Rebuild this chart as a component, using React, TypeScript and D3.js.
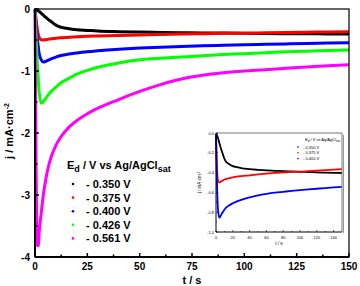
import React from 'react';
import * as d3 from 'd3';

// time axis (s) shared by all transients
const times = [0, 0.3, 0.6, 1, 1.5, 2, 3, 4, 5, 6, 8, 10, 12, 15, 20, 25, 30, 40, 50, 60, 70, 80, 90, 100, 110, 120, 130, 140, 150];

// current density j (mA/cm2) for each deposition potential
const j350 = [-0.02, -0.01, -0.01, -0.02, -0.03, -0.04, -0.07, -0.1, -0.13, -0.16, -0.21, -0.26, -0.29, -0.31, -0.335, -0.345, -0.355, -0.365, -0.372, -0.378, -0.382, -0.386, -0.389, -0.392, -0.395, -0.398, -0.4, -0.402, -0.404];
const j375 = [-0.02, -0.1, -0.2, -0.3, -0.4, -0.46, -0.495, -0.5, -0.495, -0.49, -0.48, -0.47, -0.465, -0.458, -0.448, -0.44, -0.435, -0.427, -0.418, -0.41, -0.403, -0.398, -0.393, -0.39, -0.385, -0.38, -0.375, -0.37, -0.365];
const j400 = [-0.02, -0.15, -0.3, -0.45, -0.6, -0.72, -0.82, -0.855, -0.845, -0.83, -0.8, -0.775, -0.755, -0.735, -0.71, -0.69, -0.675, -0.65, -0.63, -0.615, -0.603, -0.594, -0.585, -0.577, -0.57, -0.563, -0.556, -0.55, -0.545];
const j426 = [-0.05, -0.25, -0.5, -0.8, -1.1, -1.35, -1.52, -1.49, -1.45, -1.4, -1.32, -1.26, -1.2, -1.14, -1.05, -0.99, -0.94, -0.87, -0.82, -0.795, -0.775, -0.755, -0.735, -0.72, -0.705, -0.69, -0.68, -0.67, -0.66];
const j561 = [-0.1, -1.5, -2.8, -3.8, -3.82, -3.6, -3.28, -3.0, -2.78, -2.6, -2.36, -2.2, -2.08, -1.95, -1.8, -1.69, -1.6, -1.46, -1.33, -1.22, -1.13, -1.07, -1.03, -1.0, -0.98, -0.955, -0.935, -0.915, -0.9];

const seriesLabels = ['- 0.350 V', '- 0.375 V', '- 0.400 V', '- 0.426 V', '- 0.561 V'];
const seriesColors = ['#000000', '#ff0000', '#0000ff', '#00ff00', '#ff00ff'];
const seriesValues = [j350, j375, j400, j426, j561];

const xTicks = [0, 25, 50, 75, 100, 125, 150];
const yTicks = [0, -1, -2, -3, -4];
const insetXTicks = [0, 20, 40, 60, 80, 100, 120, 140];
const insetYTicks = [0, -0.2, -0.4, -0.6, -0.8, -1.0];

const FONT = '"Liberation Sans", Arial, sans-serif';

export default function App() {
  const W = 360, H = 286;
  const m = { left: 35, right: 349, top: 9, bottom: 257 };

  const x = d3.scaleLinear().domain([0, 150]).range([m.left, m.right]);
  const y = d3.scaleLinear().domain([0, -4]).range([m.top, m.bottom]);

  const ins = { left: 216, right: 342, top: 133, bottom: 232 };
  const xi = d3.scaleLinear().domain([0, 150]).range([ins.left, ins.right]);
  const yi = d3.scaleLinear().domain([0, -1]).range([ins.top, ins.bottom]);

  const mainLine = d3.line<number>()
    .x((_, i) => x(times[i]))
    .y(d => y(d))
    .curve(d3.curveMonotoneX);

  const insetLine = d3.line<number>()
    .x((_, i) => xi(times[i]))
    .y(d => yi(d))
    .curve(d3.curveMonotoneX);

  const xMinor = d3.range(12.5, 150, 25);
  const yMinor = d3.range(-0.5, -4, -1);
  const insetXMinor = d3.range(10, 150, 20);
  const insetYMinor = d3.range(-0.1, -1, -0.2);

  return (
    <svg width={W} height={H} style={{ position: 'absolute', left: 0, top: 0, background: '#fff' }}>
      <rect width={W} height={H} fill="#fff" />

      {/* transients */}
      {seriesValues.map((vals, k) => (
        <g key={k}>
          <path d={mainLine(vals) || ''} fill="none" stroke={seriesColors[k]} strokeWidth={3} strokeLinejoin="round" />
          {vals.slice(0, 5).map((v, i) => (
            <circle key={i} cx={x(times[i])} cy={y(v)} r={1.3} fill={seriesColors[k]} opacity={0.7} />
          ))}
        </g>
      ))}

      {/* frame */}
      <rect x={m.left} y={m.top} width={m.right - m.left} height={m.bottom - m.top} fill="none" stroke="#000" strokeWidth={1.2} />
      <line x1={m.left} x2={m.right} y1={m.bottom} y2={m.bottom} stroke="#000" strokeWidth={2} />
      <line x1={m.left} x2={m.left} y1={m.top} y2={m.bottom} stroke="#000" strokeWidth={2} />

      {/* x axis */}
      {xTicks.map(t => (
        <g key={t}>
          <line x1={x(t)} x2={x(t)} y1={m.bottom} y2={m.bottom - 4} stroke="#000" strokeWidth={1.5} />
          <text x={x(t)} y={m.bottom + 13} textAnchor="middle" fontFamily={FONT} fontWeight="bold" fontSize={10}>{t}</text>
        </g>
      ))}
      {xMinor.map(t => (
        <line key={t} x1={x(t)} x2={x(t)} y1={m.bottom} y2={m.bottom - 2.5} stroke="#000" strokeWidth={1.5} />
      ))}
      <text x={192} y={284} textAnchor="middle" fontFamily={FONT} fontWeight="bold" fontSize={11}>t / s</text>

      {/* y axis */}
      {yTicks.map(v => (
        <g key={v}>
          <line x1={m.left} x2={m.left + 4} y1={y(v)} y2={y(v)} stroke="#000" strokeWidth={1.5} />
          <text x={m.left - 5} y={y(v) + 3.5} textAnchor="end" fontFamily={FONT} fontWeight="bold" fontSize={10}>{v}</text>
        </g>
      ))}
      {yMinor.map(v => (
        <line key={v} x1={m.left} x2={m.left + 2.5} y1={y(v)} y2={y(v)} stroke="#000" strokeWidth={1.5} />
      ))}
      <text transform="translate(13,131) rotate(-90)" textAnchor="middle" fontFamily={FONT} fontWeight="bold" fontSize={11}>
        j / mA·cm<tspan dy={-4} fontSize={7}>-2</tspan>
      </text>

      {/* legend */}
      <text x={67} y={169} fontFamily={FONT} fontWeight="bold" fontSize={11}>
        E<tspan dy={3} fontSize={9}>d</tspan><tspan dy={-3}> / V vs Ag/AgCl</tspan><tspan dy={3} fontSize={9}>sat</tspan>
      </text>
      {seriesLabels.map((lab, k) => (
        <g key={lab} transform={`translate(0,${184 + k * 13.6})`}>
          <circle cx={73} cy={0} r={1.3} fill={seriesColors[k]} />
          <text x={86} y={4} fontFamily={FONT} fontWeight="bold" fontSize={11}>{lab}</text>
        </g>
      ))}

      {/* inset */}
      <rect x={ins.left} y={ins.top} width={ins.right - ins.left} height={ins.bottom - ins.top} fill="#fff" />
      {seriesValues.slice(0, 3).map((vals, k) => (
        <path key={k} d={insetLine(vals) || ''} fill="none" stroke={seriesColors[k]} strokeWidth={1.8} />
      ))}
      <line x1={ins.left} x2={ins.right} y1={ins.top} y2={ins.top} stroke="#777" strokeWidth={1} />
      <line x1={ins.right} x2={ins.right} y1={ins.top} y2={ins.bottom} stroke="#777" strokeWidth={1} />
      <line x1={ins.right + 1.5} x2={ins.right + 1.5} y1={ins.top + 2} y2={ins.bottom + 1} stroke="#999" strokeWidth={1} />
      <line x1={ins.left} x2={ins.right} y1={ins.bottom} y2={ins.bottom} stroke="#000" strokeWidth={1} />
      <line x1={ins.left} x2={ins.left} y1={ins.top} y2={ins.bottom} stroke="#000" strokeWidth={1} />
      {insetXTicks.map(t => (
        <g key={t}>
          <line x1={xi(t)} x2={xi(t)} y1={ins.bottom} y2={ins.bottom - 2} stroke="#000" strokeWidth={0.6} />
          <text x={xi(t)} y={ins.bottom + 7} textAnchor="middle" fontFamily={FONT} fontSize={4}>{t}</text>
        </g>
      ))}
      {insetXMinor.map(t => (
        <line key={t} x1={xi(t)} x2={xi(t)} y1={ins.bottom} y2={ins.bottom - 1} stroke="#000" strokeWidth={0.6} />
      ))}
      {insetYTicks.map(v => (
        <g key={v}>
          <line x1={ins.left} x2={ins.left + 2} y1={yi(v)} y2={yi(v)} stroke="#000" strokeWidth={0.6} />
          <text x={ins.left - 2} y={yi(v) + 1.5} textAnchor="end" fontFamily={FONT} fontSize={4}>{v.toFixed(1)}</text>
        </g>
      ))}
      {insetYMinor.map(v => (
        <line key={v} x1={ins.left} x2={ins.left + 1} y1={yi(v)} y2={yi(v)} stroke="#000" strokeWidth={0.6} />
      ))}
      <text x={(ins.left + ins.right) / 2} y={ins.bottom + 13} textAnchor="middle" fontFamily={FONT} fontSize={4.5}>t / s</text>
      <text transform={`translate(201,${(ins.top + ins.bottom) / 2}) rotate(-90)`} textAnchor="middle" fontFamily={FONT} fontSize={4.5}>
        j / mA·cm<tspan dy={-1.5} fontSize={3}>-2</tspan>
      </text>
      <text x={305} y={141} fontFamily={FONT} fontSize={4}>
        E<tspan dy={1} fontSize={3}>d</tspan><tspan dy={-1}> / V vs Ag/AgCl</tspan><tspan dy={1} fontSize={3}>sat</tspan>
      </text>
      {seriesLabels.slice(0, 3).map((lab, k) => (
        <g key={lab} transform={`translate(0,${147 + k * 5.8})`}>
          <circle cx={298} cy={0} r={0.8} fill={seriesColors[k]} />
          <text x={303} y={1.5} fontFamily={FONT} fontSize={4}>{lab}</text>
        </g>
      ))}
    </svg>
  );
}
